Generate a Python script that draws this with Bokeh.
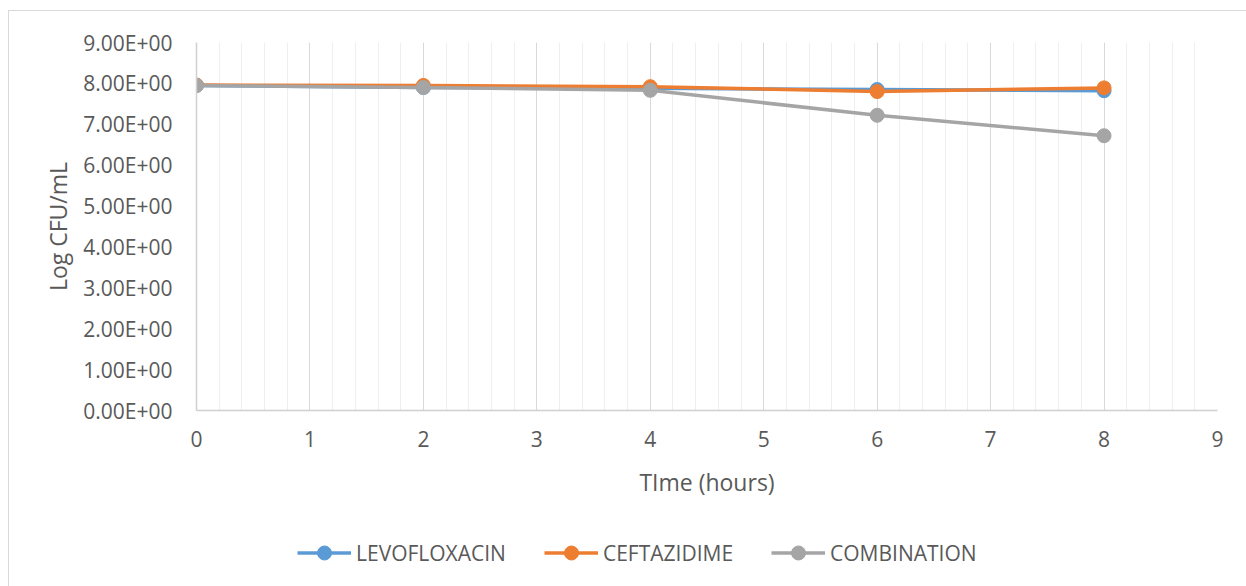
from bokeh.plotting import figure
from bokeh.layouts import column
from bokeh.models import Legend, LegendItem, FixedTicker, Range1d, InlineStyleSheet
from bokeh.embed import file_html
from bokeh.resources import INLINE

time_hours = [0, 2, 4, 6, 8]
levofloxacin = [7.95, 7.90, 7.88, 7.85, 7.82]
ceftazidime = [7.96, 7.95, 7.92, 7.80, 7.89]
combination = [7.95, 7.90, 7.83, 7.22, 6.72]

x_ticks = [0, 1, 2, 3, 4, 5, 6, 7, 8, 9]
y_ticks = [0, 1, 2, 3, 4, 5, 6, 7, 8, 9]
y_tick_labels = ["0.00E+00", "1.00E+00", "2.00E+00", "3.00E+00", "4.00E+00",
                 "5.00E+00", "6.00E+00", "7.00E+00", "8.00E+00", "9.00E+00"]

series_names = ["LEVOFLOXACIN", "CEFTAZIDIME", "COMBINATION"]
series_values = [levofloxacin, ceftazidime, combination]
series_colors = ["#5B9BD5", "#ED7D31", "#A5A5A5"]

FONT = "Open Sans"
TXT = "#595959"
EDGE = "#d9d9d9"

p = figure(width=1246, height=500, output_backend="svg", toolbar_location=None,
           x_range=Range1d(0, 9), y_range=Range1d(0, 9),
           min_border_left=196, min_border_right=29, min_border_top=42, min_border_bottom=89)
p.outline_line_color = None
p.background_fill_color = "white"
p.border_fill_color = None
p.stylesheets = [InlineStyleSheet(css=(
    ":host { background: "
    f"linear-gradient({EDGE}, {EDGE}) 8px 10px / 1px 100% no-repeat, "
    f"linear-gradient({EDGE}, {EDGE}) 8px 10px / 100% 1px no-repeat, white; }}"
))]

# grid: vertical only
p.ygrid.grid_line_color = None
p.xgrid.ticker = FixedTicker(ticks=x_ticks, minor_ticks=[i * 0.2 for i in range(46)])
p.xgrid.grid_line_color = "#d9d9d9"
p.xgrid.grid_line_width = 1
p.xgrid.minor_grid_line_color = "#efefef"
p.xgrid.minor_grid_line_width = 1

# axes
p.xaxis.ticker = FixedTicker(ticks=x_ticks)
p.yaxis.ticker = FixedTicker(ticks=y_ticks)
p.yaxis.major_label_overrides = {t: l for t, l in zip(y_ticks, y_tick_labels)}
for ax in (p.xaxis[0], p.yaxis[0]):
    ax.major_tick_out = 0
    ax.major_tick_in = 0
    ax.minor_tick_out = 0
    ax.minor_tick_in = 0
    ax.axis_line_color = "#d0d0d0"
    ax.axis_line_width = 1.5
    ax.major_label_text_font = FONT
    ax.major_label_text_font_size = "21px"
    ax.major_label_text_color = TXT
    ax.axis_label_text_font = FONT
    ax.axis_label_text_font_size = "23px"
    ax.axis_label_text_font_style = "normal"
    ax.axis_label_text_color = TXT
p.xaxis.axis_label = "TIme (hours)"
p.yaxis.axis_label = "Log CFU/mL"
p.xaxis.major_label_standoff = 20
p.xaxis.axis_label_standoff = 16
p.yaxis.major_label_standoff = 24
p.yaxis.axis_label_standoff = 6

for name, vals, col in zip(series_names, series_values, series_colors):
    p.line(time_hours, vals, line_color=col, line_width=3.5)
    p.scatter(time_hours, vals, size=14, fill_color=col, line_color=col)

# legend strip below the chart (series drawn again but kept outside the strip's view)
q = figure(width=1246, height=86, output_backend="svg", toolbar_location=None,
           x_axis_type=None, y_axis_type=None,
           x_range=Range1d(100, 101), y_range=Range1d(100, 101), min_border=0)
q.outline_line_color = None
q.grid.visible = False
q.background_fill_color = None
q.border_fill_color = None
q.stylesheets = [InlineStyleSheet(css=(
    ":host { background: "
    f"linear-gradient({EDGE}, {EDGE}) 8px 0px / 1px 100% no-repeat, white; }}"
))]
items = []
for name, vals, col in zip(series_names, series_values, series_colors):
    r1 = q.line(time_hours, vals, line_color=col, line_width=3.5)
    r2 = q.scatter(time_hours, vals, size=14, fill_color=col, line_color=col)
    items.append(LegendItem(label=name, renderers=[r1, r2]))
legend = Legend(items=items, orientation="horizontal", location=(101, 16),
                border_line_color=None, background_fill_alpha=0,
                label_text_font=FONT, label_text_font_size="21px", label_text_color=TXT,
                glyph_width=54, glyph_height=35, label_height=22, label_standoff=5,
                spacing=38, padding=0, margin=0)
q.add_layout(legend, "center")

layout = column(p, q, spacing=0)
open("out.html", "w").write(file_html(layout, INLINE))
